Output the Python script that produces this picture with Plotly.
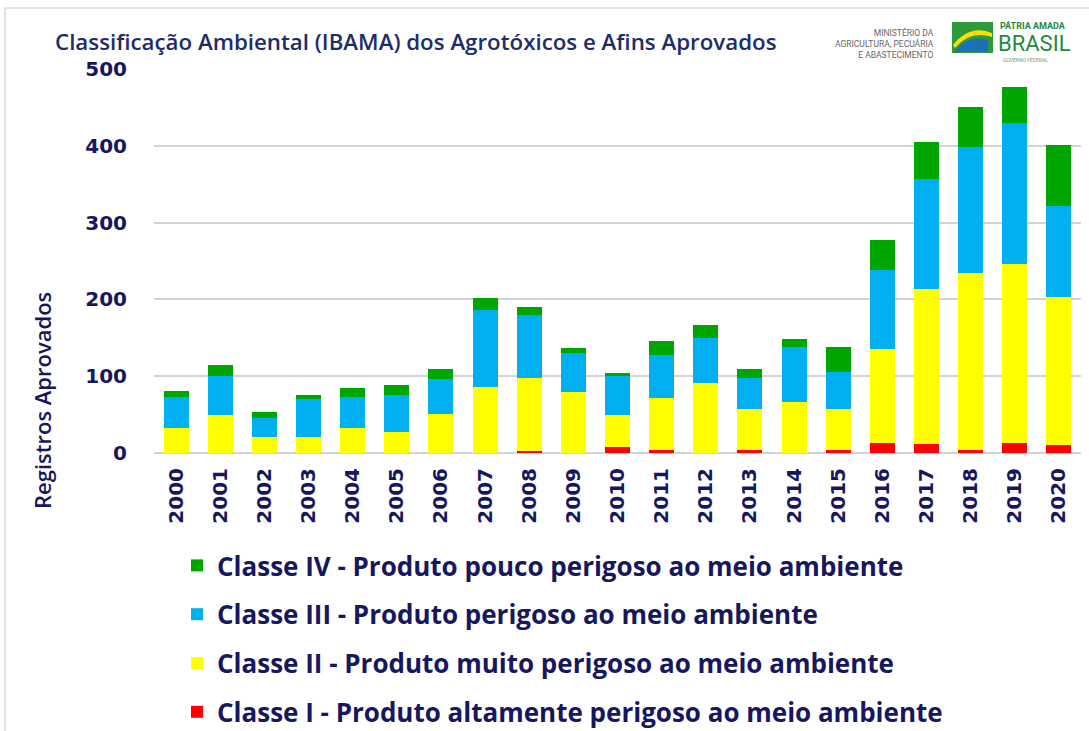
import plotly.graph_objects as go

years = [str(y) for y in range(2000, 2021)]
classe_I = [0, 0, 0, 0, 0, 0, 0, 0, 3, 0, 8, 4, 0, 4, 0, 4, 13, 12, 4, 13, 11]
classe_II = [33, 49, 21, 21, 33, 28, 51, 86, 95, 80, 41, 68, 91, 53, 67, 53, 123, 202, 230, 233, 192]
classe_III = [40, 51, 25, 49, 40, 48, 45, 100, 82, 50, 51, 56, 59, 41, 71, 49, 102, 143, 164, 184, 118]
classe_IV = [8, 14, 7, 6, 11, 13, 13, 16, 10, 7, 4, 18, 17, 12, 10, 32, 39, 48, 52, 46, 80]

names = [
    "Classe I - Produto altamente perigoso ao meio ambiente",
    "Classe II - Produto muito perigoso ao meio ambiente",
    "Classe III - Produto perigoso ao meio ambiente",
    "Classe IV - Produto pouco perigoso ao meio ambiente",
]
colors = ["#ff0000", "#ffff00", "#00b0f0", "#00a600"]
series = [classe_I, classe_II, classe_III, classe_IV]

W, H = 1089, 731
L, R, T, B = 154, 8, 69, 278

NAVY = "#17175f"
fig = go.Figure()
for i, (nm, col, vals) in enumerate(zip(names, colors, series)):
    fig.add_trace(go.Bar(x=years, y=vals, name=nm, marker=dict(color=col, line=dict(width=0)),
                         legendgroup="g%d" % i, legendrank=10 - i))

fig.update_layout(
    width=W, height=H,
    margin=dict(l=L, r=R, t=T, b=B),
    barmode="stack", bargap=0.434,
    plot_bgcolor="white", paper_bgcolor="white",
    showlegend=True,
    legend=dict(
        traceorder="grouped", orientation="v",
        x=(177 - L) / (W - L - R), xanchor="left",
        yref="container", y=1 - 542 / H, yanchor="top",
        font=dict(family="Open Sans", size=26, color=NAVY, weight="bold"),
        tracegroupgap=12, bgcolor="rgba(0,0,0,0)",
    ),
    title=dict(
        text="Classificação Ambiental (IBAMA) dos Agrotóxicos e Afins Aprovados",
        xref="container", yref="container",
        x=55 / W, xanchor="left", y=1 - 42 / H, yanchor="middle",
        font=dict(family="Open Sans", size=22.3, color="#1d2c6a", weight=600),
    ),
    xaxis=dict(
        type="category", tickangle=-90, showgrid=False, showline=False,
        tickfont=dict(family="DejaVu Sans", size=20, color=NAVY, weight="bold"),
        ticks="", ticklabelstandoff=10, range=[-0.5, 20.5],
    ),
    yaxis=dict(
        range=[0, 500], tickvals=[0, 100, 200, 300, 400, 500],
        showgrid=True, gridcolor="#d4d4d4", gridwidth=1.5,
        zeroline=True, zerolinecolor="#d4d4d4", zerolinewidth=1.5,
        showline=False, ticks="", ticklabelstandoff=26,
        tickfont=dict(family="DejaVu Sans", size=20, color=NAVY, weight="bold"),
    ),
)

pw, ph = W - L - R, H - T - B
def px(x):
    return (x - L) / pw
def py(y):
    return 1 - (y - T) / ph

# y-axis title
fig.add_annotation(text="Registros Aprovados", xref="paper", yref="paper",
                   x=px(42), y=py(401), xanchor="center", yanchor="middle",
                   textangle=-90, showarrow=False,
                   font=dict(family="Open Sans", size=22, color=NAVY, weight=600))

# frame lines
fig.add_shape(type="line", xref="paper", yref="paper", x0=px(5), x1=px(1089), y0=py(8), y1=py(8),
              line=dict(color="#d9d9d9", width=1.5))
fig.add_shape(type="line", xref="paper", yref="paper", x0=px(5), x1=px(5), y0=py(8), y1=py(731),
              line=dict(color="#d9d9d9", width=1.5))

# ministry text
fig.add_annotation(text="MINISTÉRIO DA<br>AGRICULTURA, PECUÁRIA<br>E ABASTECIMENTO",
                   xref="paper", yref="paper", x=px(936), y=py(43), xanchor="right", yanchor="middle",
                   align="right", showarrow=False,
                   font=dict(family="Liberation Sans Narrow, Roboto", size=8.5, color="#666666"))

# flag logo
fig.add_shape(type="rect", xref="paper", yref="paper", x0=px(952), x1=px(993), y0=py(53), y1=py(22),
              line=dict(width=0), fillcolor="#2f9a3c")
fig.add_shape(type="path", xref="paper", yref="paper",
              path="M %f,%f Q %f,%f %f,%f L %f,%f Q %f,%f %f,%f Z" % (
                  px(953), py(45), px(970), py(24), px(992), py(33),
                  px(992), py(37), px(970), py(30), px(955), py(48)),
              line=dict(width=0), fillcolor="#ffdd00")
fig.add_shape(type="path", xref="paper", yref="paper",
              path="M %f,%f Q %f,%f %f,%f L %f,%f Z" % (
                  px(954), py(52), px(968), py(34), px(988), py(40),
                  px(988), py(52)),
              line=dict(width=0), fillcolor="#1f6fb8")
fig.add_annotation(text="<b>PÁTRIA AMADA</b>", xref="paper", yref="paper", x=px(998), y=py(26),
                   xanchor="left", yanchor="middle", showarrow=False,
                   font=dict(family="Liberation Sans Narrow, Roboto", size=9, color="#1e8a3c"))
fig.add_annotation(text="BRASIL", xref="paper", yref="paper", x=px(996), y=py(44),
                   xanchor="left", yanchor="middle", showarrow=False,
                   font=dict(family="Roboto", size=22, color="#1e8a3c"))
fig.add_annotation(text="GOVERNO FEDERAL", xref="paper", yref="paper", x=px(1001), y=py(60),
                   xanchor="left", yanchor="middle", showarrow=False,
                   font=dict(family="Roboto", size=5, color="#7a9a7a"))

fig.write_html("out.html")
